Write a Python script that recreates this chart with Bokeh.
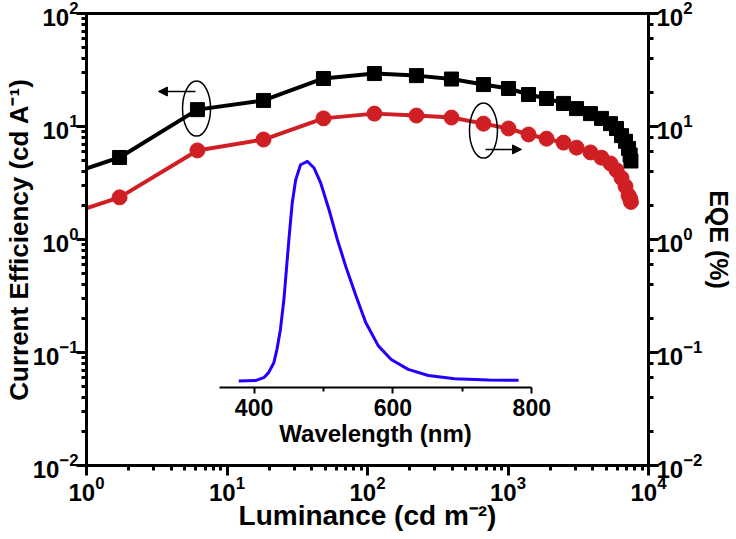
from bokeh.plotting import figure
from bokeh.models import (LogAxis, LinearAxis, Range1d, FixedTicker, Arrow, NormalHead,
                          LinearScale)
from bokeh.embed import file_html
from bokeh.resources import INLINE

# ---- data ----
luminance = [0.55, 1.72, 6.16, 18.2, 48.6, 112, 223, 396, 669, 1008, 1400, 1880, 2483,
             3075, 3865, 4627, 5367, 5920, 6430, 6860, 7210, 7400, 7500]
current_eff = [3.33, 5.32, 14.1, 17.0, 26.6, 29.4, 28.2, 26.3, 23.5, 21.7, 19.2, 17.7, 16.0,
               14.4, 13.0, 11.8, 10.6, 9.6, 8.3, 7.4, 6.4, 5.6, 4.95]
eqe = [1.48, 2.36, 6.14, 7.67, 11.8, 13.0, 12.5, 12.0, 10.6, 9.6, 8.5, 7.8, 7.2,
       6.5, 5.9, 5.3, 4.7, 4.1, 3.5, 2.95, 2.46, 2.3, 2.15]

wavelength = [378, 402, 414, 421, 428.5, 433, 438, 443, 447, 451, 455, 460, 467, 477, 486.5,
              496, 508, 520, 532, 547, 561, 579, 597.5, 622, 651, 689, 738, 781]
intensity = [0.0, 0.002, 0.015, 0.038, 0.083, 0.144, 0.235, 0.371, 0.523, 0.674, 0.811, 0.917,
             0.985, 1.0, 0.970, 0.902, 0.780, 0.644, 0.523, 0.386, 0.265, 0.160, 0.098, 0.053,
             0.025, 0.010, 0.004, 0.003]
inset_ticks = [400, 600, 800]
inset_minor = [500, 700]

FONT = "Liberation Sans"

p = figure(x_axis_type="log", y_axis_type="log",
           x_range=Range1d(1, 1e4), y_range=Range1d(1e-2, 1e2),
           frame_width=562, frame_height=452,
           min_border_left=80, min_border_right=72, min_border_top=13, min_border_bottom=60,
           output_backend="svg", toolbar_location=None)
p.grid.visible = False
p.outline_line_color = "black"
p.outline_line_width = 3
p.outline_line_alpha = 1

p.extra_x_ranges = {"wl": Range1d(158.7, 968.1)}
p.extra_y_ranges = {"int": Range1d(-0.385, 1.674)}
p.extra_x_scales = {"wl": LinearScale()}
p.extra_y_scales = {"int": LinearScale()}

right = LogAxis()
p.add_layout(right, "right")

def style(ax, label, label_size, tick_standoff, label_standoff):
    ax.axis_label = label
    ax.axis_line_width = 3
    ax.major_tick_line_width = 3
    ax.minor_tick_line_width = 3
    ax.major_tick_out = 10
    ax.major_tick_in = 0
    ax.minor_tick_out = 5
    ax.minor_tick_in = 0
    ax.major_label_text_font = FONT
    ax.major_label_text_font_style = "bold"
    ax.major_label_text_font_size = "24px"
    ax.major_label_text_color = "black"
    ax.major_label_standoff = tick_standoff
    ax.axis_label_text_font = FONT
    ax.axis_label_text_font_style = "bold"
    ax.axis_label_text_font_size = label_size
    ax.axis_label_text_color = "black"
    ax.axis_label_standoff = label_standoff

style(p.xaxis[0], "Luminance (cd m⁻²)", "28px", 0, -4)
style(p.yaxis[0], "Current Efficiency (cd A⁻¹)", "26px", -2, -4)
style(right, "EQE (%)", "25px", -2, 0)

# main series
p.line(luminance, current_eff, color="black", line_width=4)
p.scatter(luminance, current_eff, marker="square", size=14, color="black")
p.line(luminance, eqe, color="#d01f24", line_width=4)
p.scatter(luminance, eqe, marker="circle", size=15, color="#d01f24")

# inset spectrum
p.line(wavelength, intensity, x_range_name="wl", y_range_name="int",
       color="#2200ff", line_width=3, line_join="round")
inset_axis = LinearAxis(x_range_name="wl", y_range_name="int", fixed_location=-0.03,
                        bounds=(350, 800),
                        ticker=FixedTicker(ticks=inset_ticks, minor_ticks=inset_minor),
                        axis_label="Wavelength (nm)")
inset_axis.axis_line_width = 2
inset_axis.major_tick_line_width = 2
inset_axis.minor_tick_line_width = 2
inset_axis.major_tick_out = 6
inset_axis.major_tick_in = 0
inset_axis.minor_tick_out = 4
inset_axis.minor_tick_in = 0
inset_axis.major_label_text_font = FONT
inset_axis.major_label_text_font_style = "bold"
inset_axis.major_label_text_font_size = "23px"
inset_axis.major_label_text_color = "black"
inset_axis.major_label_standoff = 5
inset_axis.axis_label_text_font = FONT
inset_axis.axis_label_text_font_style = "bold"
inset_axis.axis_label_text_font_size = "24px"
inset_axis.axis_label_text_color = "black"
inset_axis.axis_label_standoff = 1
p.add_layout(inset_axis, "below")

# ellipse + arrow annotations
p.ellipse(x=[6.07, 669], y=[14.4, 9.2], width=28, height=55,
          width_units="screen", height_units="screen",
          fill_alpha=0, line_color="black", line_width=1.5)
p.add_layout(Arrow(x_start=5.97, y_start=20.4, x_end=3.25, y_end=20.4, line_width=1.5,
                   end=NormalHead(size=9, fill_color="black", line_color="black", line_width=1)))
p.add_layout(Arrow(x_start=692, y_start=6.27, x_end=1248, y_end=6.27, line_width=1.5,
                   end=NormalHead(size=9, fill_color="black", line_color="black", line_width=1)))

open("out.html", "w").write(file_html(p, INLINE))
